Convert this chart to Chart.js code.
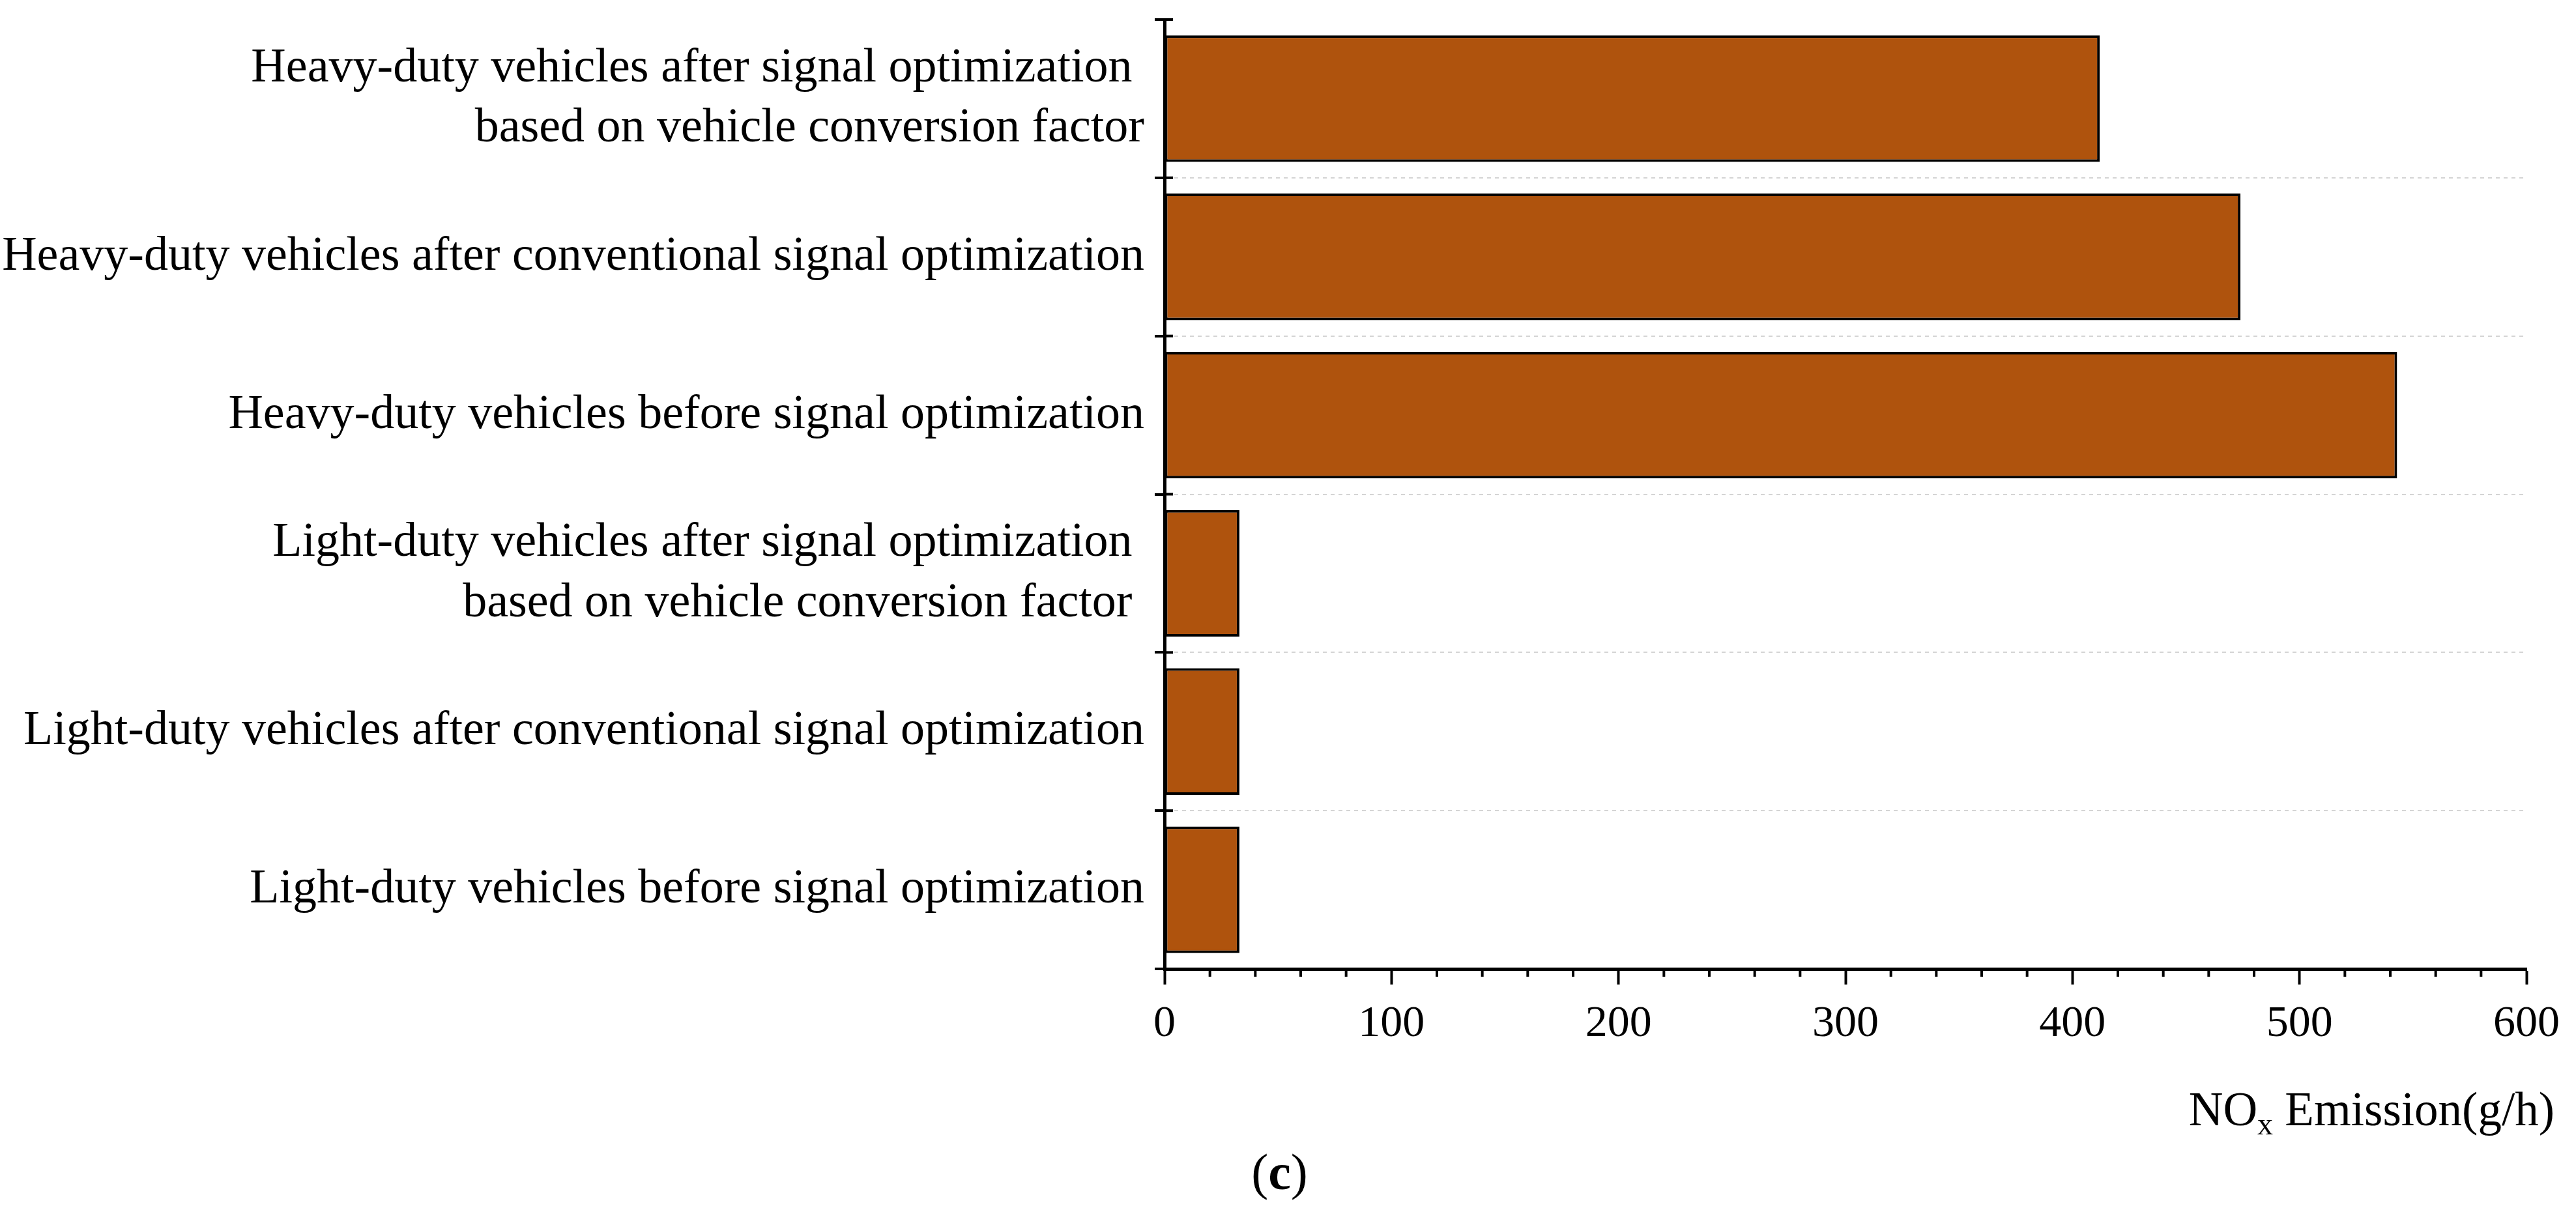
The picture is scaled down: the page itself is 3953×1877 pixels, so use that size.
<!DOCTYPE html>
<html>
<head>
<meta charset="utf-8">
<script src="https://cdn.jsdelivr.net/npm/chart.js@4"></script>
<style>
  html, body { margin: 0; padding: 0; background: #fff; overflow: hidden; }
  #chart { display: block; }
</style>
</head>
<body>
<canvas id="chart" width="3953" height="1877" style="width:3953px;height:1877px"></canvas>
<script>
const categories = [
  ["Heavy-duty vehicles after signal optimization ", "based on vehicle conversion factor"],
  "Heavy-duty vehicles after conventional signal optimization",
  "Heavy-duty vehicles before signal optimization",
  ["Light-duty vehicles after signal optimization ", "based on vehicle conversion factor "],
  "Light-duty vehicles after conventional signal optimization",
  "Light-duty vehicles before signal optimization"
];
const noxValues = [412, 474, 543, 33, 33, 33];
const xRange = [0, 600];
const xMajorStep = 100;
const xMinorStep = 20;

const FONT = '"Liberation Serif", "Times New Roman", serif';

// minor ticks, inner y tick stubs, axis title with subscript, panel letter
const extras = {
  id: 'extras',
  afterDraw(chart) {
    const { ctx, scales: { x, y } } = chart;
    ctx.save();
    ctx.strokeStyle = '#000';
    ctx.lineWidth = 4;
    const line = (x1, y1, x2, y2) => { ctx.beginPath(); ctx.moveTo(x1, y1); ctx.lineTo(x2, y2); ctx.stroke(); };

    for (let v = xRange[0]; v <= xRange[1]; v += xMinorStep) {
      if (v % xMajorStep === 0) continue;
      const px = x.getPixelForValue(v);
      line(px, x.top, px, x.top + 12);
    }

    const step = y.getPixelForValue(1) - y.getPixelForValue(0);
    for (let i = 0; i <= categories.length; i++) {
      const py = y.getPixelForValue(0) - step / 2 + i * step;
      line(y.right, py, y.right + 13, py);
    }

    // NOx Emission(g/h)
    ctx.fillStyle = '#000';
    ctx.textBaseline = 'alphabetic';
    ctx.textAlign = 'left';
    const big = '73px ' + FONT, small = '48px ' + FONT;
    ctx.font = big; const w1 = ctx.measureText('NO').width;
    ctx.font = small; const w2 = ctx.measureText('x').width;
    ctx.font = big; const w3 = ctx.measureText(' Emission(g/h)').width;
    const base = x.top + 240;
    let tx = x.right + 43 - (w1 + w2 + w3);
    ctx.font = big; ctx.fillText('NO', tx, base); tx += w1;
    ctx.font = small; ctx.fillText('x', tx, base + 14); tx += w2;
    ctx.font = big; ctx.fillText(' Emission(g/h)', tx, base);

    // (c)
    const pw = (() => { ctx.font = '78px ' + FONT; return ctx.measureText('(').width; })();
    ctx.font = 'bold 78px ' + FONT; const cw = ctx.measureText('c').width;
    let cx = chart.width / 2 - 13 - (2 * pw + cw) / 2;
    const cb = chart.height - 52;
    ctx.font = '78px ' + FONT; ctx.fillText('(', cx, cb); cx += pw;
    ctx.font = 'bold 78px ' + FONT; ctx.fillText('c', cx, cb); cx += cw;
    ctx.font = '78px ' + FONT; ctx.fillText(')', cx, cb);
    ctx.restore();
  }
};

new Chart(document.getElementById('chart'), {
  type: 'bar',
  data: {
    labels: categories,
    datasets: [{
      data: noxValues,
      backgroundColor: '#AF530D',
      borderColor: '#000',
      borderWidth: 4,
      borderSkipped: false,
      barPercentage: 0.8,
      categoryPercentage: 1.0
    }]
  },
  options: {
    indexAxis: 'y',
    responsive: false,
    animation: false,
    devicePixelRatio: 1,
    layout: { padding: { top: 30, right: 76, left: 0, bottom: 0 } },
    plugins: { legend: { display: false }, tooltip: { enabled: false } },
    scales: {
      y: {
        afterFit(scale) {
          scale.width = 1787;
          scale.paddingTop = 0;
          scale.paddingBottom = 0;
        },
        grid: {
          offset: true,
          color: ctx => (ctx.index === 0 || ctx.index === categories.length) ? 'rgba(0,0,0,0)' : '#d4d4d4',
          lineWidth: 2,
          tickColor: '#000',
          tickWidth: 4,
          tickLength: 15
        },
        border: { color: '#000', width: 5, dash: [6, 6] },
        ticks: {
          color: '#000',
          padding: 16,
          autoSkip: false,
          font: { family: FONT, size: 74, lineHeight: 1.25 }
        }
      },
      x: {
        min: xRange[0],
        max: xRange[1],
        afterFit(scale) { scale.height = 1877 - 1487; },
        grid: {
          drawOnChartArea: false,
          tickColor: '#000',
          tickWidth: 4,
          tickLength: 24
        },
        border: { color: '#000', width: 5 },
        ticks: {
          stepSize: xMajorStep,
          color: '#000',
          padding: 20,
          font: { family: FONT, size: 68 }
        }
      }
    }
  },
  plugins: [extras]
});
</script>
</body>
</html>
